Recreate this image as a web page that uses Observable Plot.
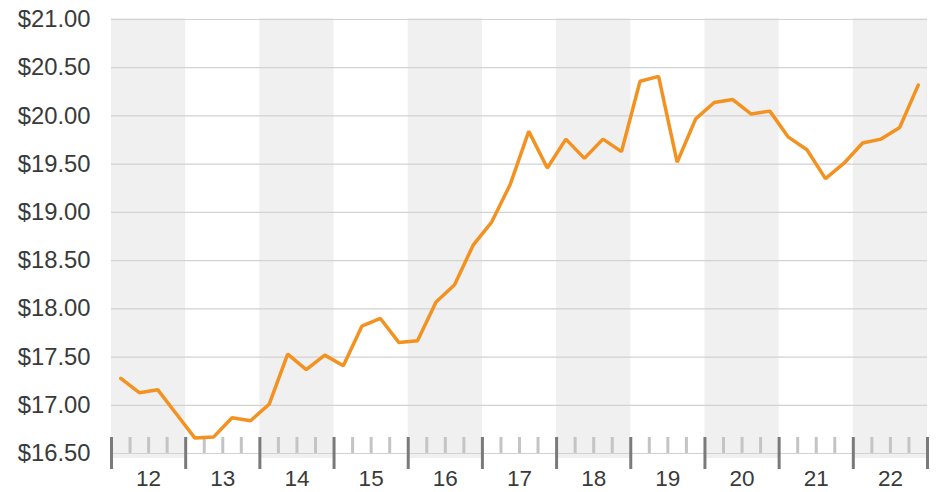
<!DOCTYPE html>
<html>
<head>
<meta charset="utf-8">
<script src="https://cdn.jsdelivr.net/npm/d3@7"></script>
<script src="https://cdn.jsdelivr.net/npm/@observablehq/plot@0.6"></script>
<style>
  html, body { margin: 0; padding: 0; background: #fff; }
  #chart svg { display: block; }
</style>
</head>
<body>
<div id="chart"></div>
<script>
// Years shown on the x axis and their labels
const years = [2012, 2013, 2014, 2015, 2016, 2017, 2018, 2019, 2020, 2021, 2022];
const yearLabels = ["12", "13", "14", "15", "16", "17", "18", "19", "20", "21", "22"];
const quartersPerYear = 4;

// Quarterly values (Q1..Q4 for each year), in dollars
const price = [
  17.28, 17.13, 17.16, 16.91,
  16.66, 16.67, 16.87, 16.84,
  17.01, 17.53, 17.37, 17.52,
  17.41, 17.82, 17.90, 17.65,
  17.67, 18.07, 18.25, 18.66,
  18.90, 19.29, 19.84, 19.46,
  19.76, 19.56, 19.76, 19.63,
  20.36, 20.41, 19.52, 19.97,
  20.14, 20.17, 20.02, 20.05,
  19.78, 19.65, 19.35, 19.51,
  19.72, 19.76, 19.88, 20.32
];

// Y axis ticks
const yTicks = [16.5, 17, 17.5, 18, 18.5, 19, 19.5, 20, 20.5, 21];

const data = price.map((v, i) => ({
  t: years[Math.floor(i / quartersPerYear)] + ((i % quartersPerYear) + 0.5) / quartersPerYear,
  v
}));
const yMin = yTicks[0], yMax = yTicks[yTicks.length - 1];
const shaded = years.filter((y, i) => i % 2 === 0);
const boundaries = [...years, years[years.length - 1] + 1];
const minor = years.flatMap(y => [1, 2, 3].map(q => y + q / quartersPerYear));
const centers = years.map(y => y + 0.5);

const chart = Plot.plot({
  width: 937,
  height: 492,
  marginLeft: 111,
  marginRight: 10,
  marginTop: 19,
  marginBottom: 39,
  style: {
    fontFamily: "'Helvetica Neue', Helvetica, Arial, 'Liberation Sans', sans-serif",
    color: "#3a3a3a",
    background: "#fff"
  },
  x: { domain: [boundaries[0], boundaries[boundaries.length - 1]], label: null },
  y: { domain: [yMin, yMax], label: null },
  marks: [
    Plot.rect(shaded, {
      x1: d => d, x2: d => d + 1, y1: yMin, y2: yMax,
      insetTop: -1, insetBottom: -5, fill: "#f0f0f0"
    }),
    Plot.ruleY(yTicks, { stroke: "#d2d2d2", strokeWidth: 1.2 }),
    Plot.ruleX(minor, {
      y1: yMin, y2: yMin, insetTop: -16, insetBottom: 0,
      stroke: "#c4c4c4", strokeWidth: 3
    }),
    Plot.ruleX(boundaries, {
      y1: yMin, y2: yMin, insetTop: -16, insetBottom: -16,
      stroke: "#7a7a7a", strokeWidth: 3
    }),
    Plot.line(data, {
      x: "t", y: "v", stroke: "#f39220", strokeWidth: 3.5,
      strokeLinejoin: "miter", curve: "linear"
    }),
    Plot.axisY(yTicks, {
      tickSize: 0, tickPadding: 21, fontSize: 23.8,
      tickFormat: d3.format("$.2f"), label: null
    }),
    Plot.axisX(centers, {
      tickSize: 0, tickPadding: 17, fontSize: 22.5,
      tickFormat: d => yearLabels[Math.floor(d) - years[0]], label: null
    })
  ]
});

document.getElementById("chart").appendChild(chart);
</script>
</body>
</html>
